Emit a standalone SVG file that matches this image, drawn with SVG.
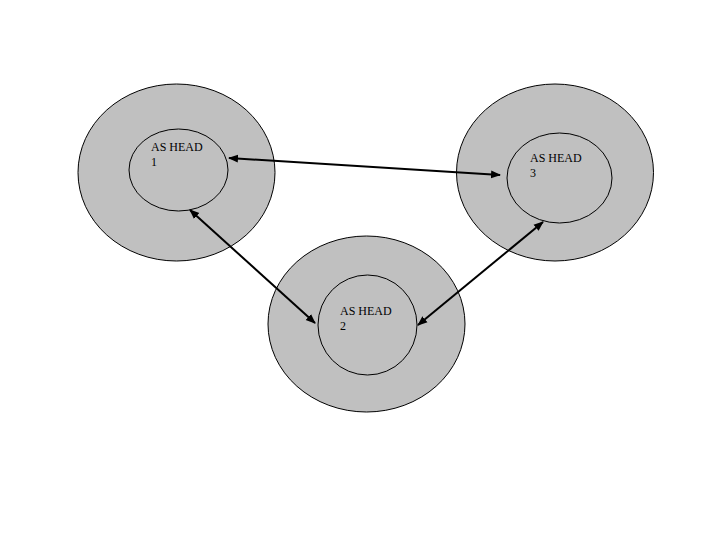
<svg xmlns="http://www.w3.org/2000/svg" width="720" height="540" viewBox="0 0 720 540">
<style>
.outer{fill:#c0c0c0;stroke:#000;stroke-width:1}
.inner{fill:#c0c0c0;stroke:#000;stroke-width:1}
.lbl{font-family:"Liberation Serif",serif;font-size:12px;fill:#000}
.conn{stroke:#000;stroke-width:2;fill:none;marker-start:url(#ah);marker-end:url(#ah)}
</style>
<defs>
<marker id="ah" viewBox="0 0 10 10" refX="9" refY="5" markerWidth="5" markerHeight="5" orient="auto-start-reverse" markerUnits="strokeWidth">
<path d="M0,1 L10,5 L0,9 z" fill="#000"/>
</marker>
</defs>
<rect width="720" height="540" fill="#fff"/>
<g id="node1">
<ellipse class="outer" cx="176.5" cy="172.5" rx="98.5" ry="88.5"/>
<ellipse class="inner" cx="178.5" cy="170" rx="49.5" ry="41"/>
<text class="lbl" x="151" y="151">AS HEAD</text>
<text class="lbl" x="151" y="166">1</text>
</g>
<g id="node3">
<ellipse class="outer" cx="555" cy="172.5" rx="98.5" ry="88.5"/>
<ellipse class="inner" cx="559.5" cy="178" rx="52.5" ry="45"/>
<text class="lbl" x="530" y="162">AS HEAD</text>
<text class="lbl" x="530" y="177">3</text>
</g>
<g id="node2">
<ellipse class="outer" cx="366.5" cy="324" rx="98.5" ry="88"/>
<ellipse class="inner" cx="367.5" cy="325" rx="49.5" ry="50"/>
<text class="lbl" x="340" y="315">AS HEAD</text>
<text class="lbl" x="340" y="330">2</text>
</g>
<g id="connectors">
<line class="conn" x1="229" y1="158" x2="500" y2="175"/>
<line class="conn" x1="190" y1="210" x2="315" y2="323"/>
<line class="conn" x1="418" y1="325" x2="543" y2="222"/>
</g>
</svg>
